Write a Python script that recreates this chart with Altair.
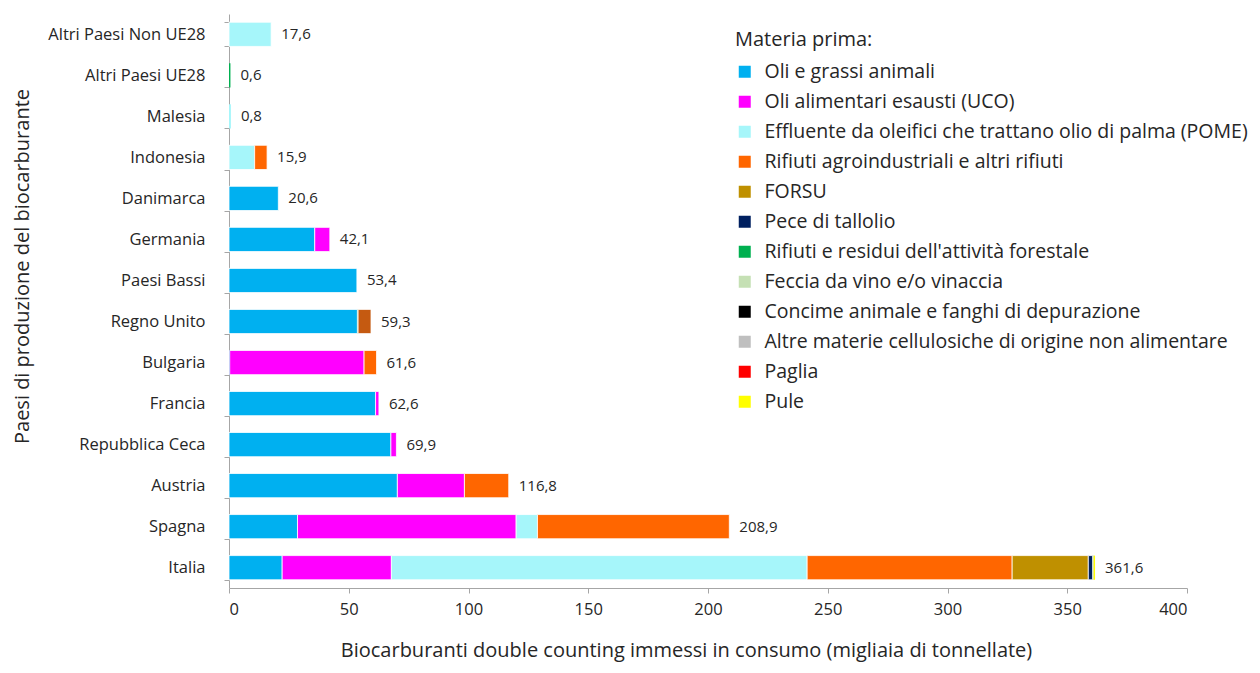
import altair as alt
import pandas as pd

countries = ["Italia", "Spagna", "Austria", "Repubblica Ceca", "Francia", "Bulgaria",
             "Regno Unito", "Paesi Bassi", "Germania", "Danimarca", "Indonesia",
             "Malesia", "Altri Paesi UE28", "Altri Paesi Non UE28"]

materials = ["Oli e grassi animali", "Oli alimentari esausti (UCO)",
             "Effluente da oleifici che trattano olio di palma (POME)",
             "Rifiuti agroindustriali e altri rifiuti", "FORSU", "Pece di tallolio",
             "Rifiuti e residui dell'attività forestale", "Feccia da vino e/o vinaccia",
             "Concime animale e fanghi di depurazione",
             "Altre materie cellulosiche di origine non alimentare", "Paglia", "Pule",
             "Altro"]

colors = ["#00B0F0", "#FF00FF", "#A6F6FA", "#FF6600", "#BF9000", "#002060",
          "#00B050", "#C5E0B4", "#000000", "#BFBFBF", "#FF0000", "#FFFF00", "#C55A11"]

# values per country (same order as countries)
oli_grassi   = [22.2, 28.6, 70.3, 67.6, 61.2, 0.3, 53.6, 53.4, 35.8, 20.6, 0, 0, 0, 0]
uco          = [45.6, 91.3, 28.0, 2.3, 1.4, 56.1, 0, 0, 6.3, 0, 0, 0, 0, 0]
pome         = [173.6, 8.9, 0, 0, 0, 0, 0, 0, 0, 0, 10.7, 0.8, 0, 17.6]
rifiuti_agro = [85.6, 80.1, 18.5, 0, 0, 5.2, 0, 0, 0, 0, 5.2, 0, 0, 0]
forsu        = [31.8, 0, 0, 0, 0, 0, 0, 0, 0, 0, 0, 0, 0, 0]
pece         = [1.8, 0, 0, 0, 0, 0, 0, 0, 0, 0, 0, 0, 0, 0]
forestale    = [0, 0, 0, 0, 0, 0, 0, 0, 0, 0, 0, 0, 0.6, 0]
feccia       = [0.2, 0, 0, 0, 0, 0, 0.3, 0, 0, 0, 0, 0, 0, 0]
concime      = [0, 0, 0, 0, 0, 0, 0, 0, 0, 0, 0, 0, 0, 0]
cellulosiche = [0.2, 0, 0, 0, 0, 0, 0, 0, 0, 0, 0, 0, 0, 0]
paglia       = [0, 0, 0, 0, 0, 0, 0, 0, 0, 0, 0, 0, 0, 0]
pule         = [0.6, 0, 0, 0, 0, 0, 0, 0, 0, 0, 0, 0, 0, 0]
altro        = [0, 0, 0, 0, 0, 0, 5.4, 0, 0, 0, 0, 0, 0, 0]

totals = [361.6, 208.9, 116.8, 69.9, 62.6, 61.6, 59.3, 53.4, 42.1, 20.6, 15.9, 0.8, 0.6, 17.6]
total_labels = ["361,6", "208,9", "116,8", "69,9", "62,6", "61,6", "59,3", "53,4",
                "42,1", "20,6", "15,9", "0,8", "0,6", "17,6"]

series = [oli_grassi, uco, pome, rifiuti_agro, forsu, pece, forestale, feccia,
          concime, cellulosiche, paglia, pule, altro]

rows = []
for mi, (m, vals) in enumerate(zip(materials, series)):
    for c, v in zip(countries, vals):
        if v > 0:
            rows.append({"Paese": c, "Materia": m, "idx": mi, "valore": v})
df = pd.DataFrame(rows)
df_tot = pd.DataFrame({"Paese": countries, "totale": totals, "label": total_labels})

FONT = "Open Sans"
TXT = "#262626"
y_sort = list(reversed(countries))

bars = alt.Chart(df).mark_bar(stroke="white").encode(
    y=alt.Y("Paese:N", sort=y_sort,
            scale=alt.Scale(paddingInner=0.41, paddingOuter=0.2),
            axis=alt.Axis(title="Paesi di produzione del biocarburante",
                          tickBand="extent", tickSize=5, labelPadding=19,
                          titlePadding=15, titleY=252, titleFontSize=20,
                          titleFontWeight="normal", labelFontSize=16.5,
                          domainColor="#A6A6A6", tickColor="#A6A6A6",
                          labelColor=TXT, titleColor=TXT)),
    x=alt.X("valore:Q", stack="zero",
            scale=alt.Scale(domain=[0, 400], nice=False),
            axis=alt.Axis(title="Biocarburanti double counting immessi in consumo (migliaia di tonnellate)",
                          values=[0, 50, 100, 150, 200, 250, 300, 350, 400],
                          grid=False, tickSize=5, labelPadding=8, labelFontSize=16.5,
                          titleFontSize=20, titleFontWeight="normal", titlePadding=23,
                          titleX=457,
                          domainColor="#A6A6A6", tickColor="#A6A6A6",
                          labelColor=TXT, titleColor=TXT)),
    color=alt.Color("Materia:N",
                    scale=alt.Scale(domain=materials, range=colors),
                    legend=alt.Legend(title="Materia prima:", orient="none",
                                      legendX=506, legendY=16,
                                      values=materials[:-1],
                                      symbolType="square", symbolSize=144,
                                      symbolStrokeWidth=0, symbolOpacity=1,
                                      labelFontSize=19.5, titleFontSize=20,
                                      titleFontWeight="normal", labelOffset=10,
                                      rowPadding=9, titlePadding=12,
                                      labelLimit=700, labelColor=TXT,
                                      titleColor=TXT)),
    strokeWidth=alt.condition(alt.datum.valore < 1, alt.value(0), alt.value(0.8)),
    order=alt.Order("idx:Q", sort="ascending"),
)

labels = alt.Chart(df_tot).mark_text(align="left", baseline="middle", dx=10,
                                     fontSize=15, color=TXT, font=FONT).encode(
    y=alt.Y("Paese:N", sort=y_sort),
    x=alt.X("totale:Q"),
    text="label:N",
)

chart = alt.layer(bars, labels).properties(
    width=958, height=574,
    padding={"left": 221, "top": 6, "right": 65, "bottom": 77},
    autosize=alt.AutoSizeParams(type="none"),
).configure(font=FONT).configure_view(stroke=None)

chart.save("out.html", embed_options={"renderer": "svg", "actions": False})
